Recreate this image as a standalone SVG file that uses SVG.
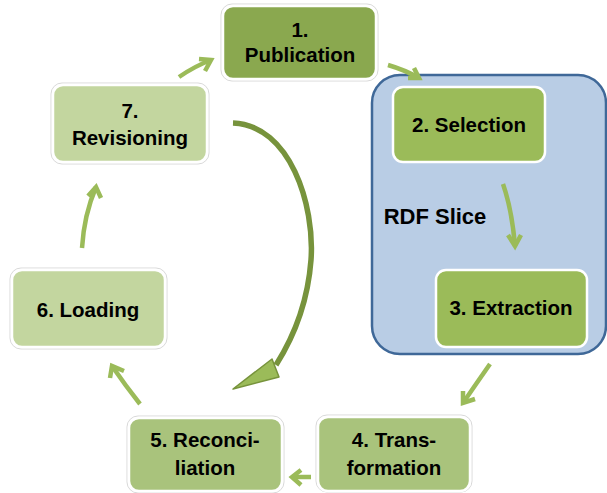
<svg xmlns="http://www.w3.org/2000/svg" width="607" height="493" viewBox="0 0 607 493">
<defs>
<style>
.box{stroke:#ffffff;stroke-width:2.5}
.halo{fill:none;stroke:#d9d9d9;stroke-width:1}
.t{font-family:"Liberation Sans",Arial,sans-serif;font-weight:bold;font-size:20.5px;fill:#000;text-anchor:middle}
.a{fill:none;stroke:#9bbb59;stroke-width:4.5;stroke-linecap:butt;stroke-linejoin:miter}
</style>
</defs>
<rect width="607" height="493" fill="#ffffff"/>
<g id="rdf-slice">
<rect x="372" y="75" width="234" height="279" rx="28" fill="#b9cde5" stroke="#3f6898" stroke-width="2.5"/>
<text class="t" x="435" y="224" style="font-size:22px">RDF Slice</text>
</g>
<g id="n1">
<rect class="halo" x="221" y="4" width="157" height="77" rx="11"/>
<rect class="box" x="223" y="6" width="153" height="73" rx="10" fill="#8aa84f"/>
<text class="t" x="300" y="37">1.</text>
<text class="t" x="300" y="62">Publication</text>
</g>
<g id="n2">
<rect class="box" x="393" y="87" width="152" height="75" rx="10" fill="#9bbb59"/>
<text class="t" x="469" y="132">2. Selection</text>
</g>
<g id="n3">
<rect class="box" x="436" y="270" width="151" height="77" rx="10" fill="#9bbb59"/>
<text class="t" x="511" y="315">3. Extraction</text>
</g>
<g id="n4">
<rect class="halo" x="316" y="415" width="156" height="77" rx="11"/>
<rect class="box" x="318" y="417" width="152" height="74" rx="10" fill="#a9c37c"/>
<text class="t" x="394" y="447">4. Trans-</text>
<text class="t" x="394" y="475">formation</text>
</g>
<g id="n5">
<rect class="halo" x="127" y="416" width="157" height="77" rx="11"/>
<rect class="box" x="129" y="418" width="153" height="73" rx="10" fill="#a9c37c"/>
<text class="t" x="205" y="447">5. Reconci-</text>
<text class="t" x="205" y="475">liation</text>
</g>
<g id="n6">
<rect class="halo" x="10" y="268" width="157" height="81" rx="11"/>
<rect class="box" x="12" y="270" width="153" height="77" rx="10" fill="#c3d69f"/>
<text class="t" x="88" y="317">6. Loading</text>
</g>
<g id="n7">
<rect class="halo" x="51" y="83" width="158" height="81" rx="11"/>
<rect class="box" x="53" y="85" width="154" height="77" rx="10" fill="#c3d69f"/>
<text class="t" x="130" y="118">7.</text>
<text class="t" x="130" y="145">Revisioning</text>
</g>
<g id="connectors">
<path class="a" d="M179 77 Q195 66 211 60"/>
<path class="a" d="M199 59 L211 60 L205 71"/>
<path class="a" d="M388 65 Q405 70 419 78"/>
<path class="a" d="M408 78 L419 78 L414 68"/>
<path class="a" d="M503 184 Q512 210 515 246"/>
<path class="a" d="M508 235 L515 246 L521 235"/>
<path class="a" d="M490 364 Q476 384 463 403"/>
<path class="a" d="M463 391 L463 403 L475 399"/>
<path class="a" d="M311 477 L292 477"/>
<path class="a" d="M301 470 L292 477 L301 485"/>
<path class="a" d="M140 404 Q125 385 112 366"/>
<path class="a" d="M110 378 L112 366 L124 371"/>
<path class="a" d="M82 248 Q84 215 96 187"/>
<path class="a" d="M88 196 L96 187 L101 198"/>
<path d="M233 123 C290 125 315 205 311 260 C308 300 295 335 276 365" fill="none" stroke="#77933c" stroke-width="5.5"/>
<path d="M272 359 L279 377 L233 389 Z" fill="#9bbb59" stroke="#77933c" stroke-width="1.5" stroke-linejoin="round"/>
</g>
</svg>
